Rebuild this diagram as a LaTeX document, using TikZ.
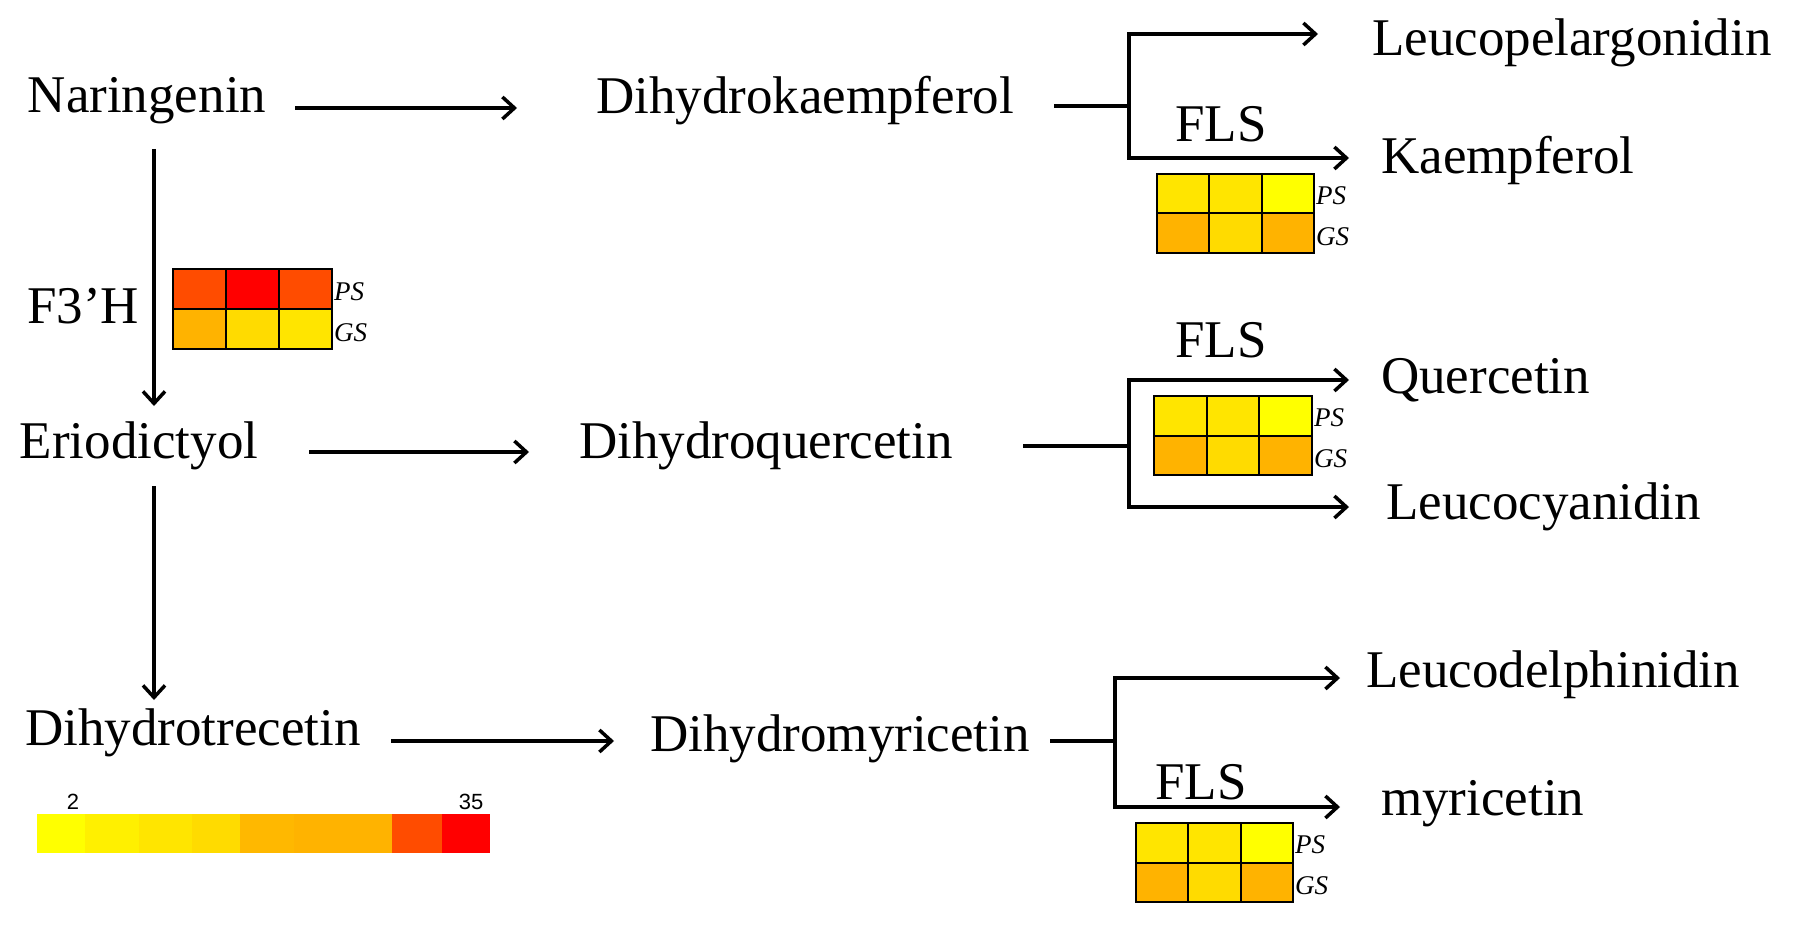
\documentclass[tikz,border=0pt]{standalone}
\usepackage{fontspec}
\setmainfont{Liberation Serif}
\newfontfamily\sansf{Liberation Sans}
\usetikzlibrary{arrows.meta}
\definecolor{cA}{HTML}{FFFF00}\definecolor{cB}{HTML}{FFF000}
\definecolor{cC}{HTML}{FFE500}\definecolor{cD}{HTML}{FFDB00}
\definecolor{cE}{HTML}{FFB800}\definecolor{cF}{HTML}{FFB300}
\definecolor{cG}{HTML}{FF4C00}\definecolor{cH}{HTML}{FF0000}
\begin{document}
\begin{tikzpicture}[x=1pt,y=-1pt,
  lbl/.style={font=\fontsize{53}{58}\selectfont, inner sep=0pt},
  rl/.style={lbl, anchor=west},
  sm/.style={font=\fontsize{27}{29}\selectfont\itshape, inner sep=0pt, anchor=west},
  arr/.style={line width=3.5pt, -{Straight Barb[length=12pt,width=22pt,line width=3.5pt]}},
  ln/.style={line width=3.5pt},
  cell/.style={draw=black, line width=2pt}]
\useasboundingbox (0,0) rectangle (1793,928);
\newcommand\hmap[9]{%
  \pgfmathsetmacro\cw{#3/3}\pgfmathsetmacro\ch{#4/2}
  \foreach \c/\i/\j in {#5/0/0,#6/1/0,#7/2/0,#8/0/1,#9/1/1}{
    \filldraw[cell, fill=\c] ({#1+\i*\cw},{#2+\j*\ch}) rectangle ++(\cw,\ch);}
}
\newcommand\hmapl[3]{\filldraw[cell, fill=#3] ({#1+2*(\cw)},{#2+\ch}) rectangle ++(\cw,\ch);}
% nodes
\node[lbl] (nar) at (147,101) {Naringenin};
\node[lbl] (dhk) at (805,101) {Dihydrokaempferol};
\node[rl] (lpg) at (1372,43) {Leucopelargonidin};
\node[rl] (kae) at (1381,160) {Kaempferol};
\node[lbl] (f3h) at (83,306) {F3’H};
\node[lbl] (eri) at (139,446) {Eriodictyol};
\node[lbl] (dhq) at (766,446) {Dihydroquercetin};
\node[rl] (que) at (1381,380) {Quercetin};
\node[rl] (lcy) at (1386,507) {Leucocyanidin};
\node[lbl] (dht) at (193,733) {Dihydrotrecetin};
\node[lbl] (dhm) at (840,739) {Dihydromyricetin};
\node[rl] (ldp) at (1366,675) {Leucodelphinidin};
\node[rl] (myr) at (1381,804) {myricetin};
\node[lbl] (fls1) at (1221,124) {FLS};
\node[lbl] (fls2) at (1221,340) {FLS};
\node[lbl] (fls3) at (1201,782) {FLS};
% main arrows
\draw[arr] (295,108) -- (517,108);
\draw[arr] (154,149) -- (154,406);
\draw[arr] (154,486) -- (154,700);
\draw[arr] (309,452) -- (529,452);
\draw[arr] (391,741) -- (614,741);
% branches
\draw[ln] (1054,106) -- (1129,106);
\draw[ln] (1129,32.3) -- (1129,159.7);
\draw[arr] (1129,34) -- (1318,34);
\draw[arr] (1129,158) -- (1349,158);
\draw[ln] (1023,446) -- (1129,446);
\draw[ln] (1129,378.3) -- (1129,508.7);
\draw[arr] (1129,380) -- (1349,380);
\draw[arr] (1129,507) -- (1349,507);
\draw[ln] (1050,741) -- (1115,741);
\draw[ln] (1115,676.3) -- (1115,808.7);
\draw[arr] (1115,678) -- (1340,678);
\draw[arr] (1115,807) -- (1340,807);
% heatmaps
\hmap{173}{269}{159}{80}{cG}{cH}{cG}{cF}{cD}\hmapl{173}{269}{cC}
\node[sm] at (334,292) {PS}; \node[sm] at (334,333) {GS};
\hmap{1157}{174}{157}{79}{cC}{cC}{cA}{cF}{cD}\hmapl{1157}{174}{cF}
\node[sm] at (1316,196) {PS}; \node[sm] at (1316,237) {GS};
\hmap{1154}{396}{158}{79}{cC}{cC}{cA}{cF}{cD}\hmapl{1154}{396}{cF}
\node[sm] at (1314,418) {PS}; \node[sm] at (1314,459) {GS};
\hmap{1136}{823}{157}{79}{cC}{cC}{cA}{cF}{cD}\hmapl{1136}{823}{cF}
\node[sm] at (1295,845) {PS}; \node[sm] at (1295,886) {GS};
% colour scale
\foreach \a/\b/\c in {37/85/cA,85/139/cB,139/192/cC,192/240/cD,240/294/cE,294/392/cF,392/442/cG,442/490/cH}
  \fill[\c] (\a,814) rectangle (\b,853);
\node[font=\sansf\fontsize{22}{24}\selectfont, inner sep=0pt] (s2) at (73,802) {2};
\node[font=\sansf\fontsize{22}{24}\selectfont, inner sep=0pt] (s35) at (471,802) {35};
\end{tikzpicture}
\end{document}
